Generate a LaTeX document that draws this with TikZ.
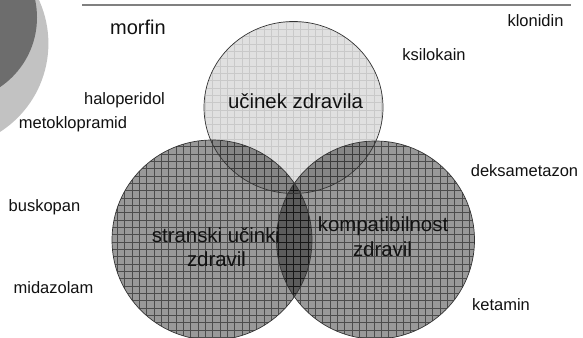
\documentclass[tikz,border=0pt]{standalone}
\usepackage{fontspec}
\setmainfont{Liberation Sans}
\definecolor{decolight}{HTML}{C2C2C2}
\definecolor{decodark}{HTML}{6D6D6D}
\definecolor{topline}{HTML}{808080}
\definecolor{txt}{HTML}{111111}
\begin{document}
\begin{tikzpicture}[x=1pt,y=-1pt,
  drug/.style={anchor=base, inner sep=0pt, font=\fontsize{16.5}{19}\selectfont, text=txt},
  drugbig/.style={anchor=base, inner sep=0pt, font=\fontsize{20}{24}\selectfont, text=txt},
  setlabel/.style={anchor=base, inner sep=0pt, font=\fontsize{20.4}{24}\selectfont, text=txt},
  ring/.style={draw=black!80, line width=0.7pt},
  darkgrid/.style={draw=black, draw opacity=0.5, line width=0.5pt},
  lightgrid/.style={draw=black, draw opacity=0.1, line width=0.5pt}]
\useasboundingbox (0,0) rectangle (583,337);
% corner decoration
\fill[decolight] (-56.6,43.5) circle[radius=105pt];
\fill[decodark] (-47,17.5) circle[radius=84pt];
% top rule
\coordinate (ruleL) at (82,5);
\coordinate (ruleR) at (571,5);
\draw[topline, line width=1.5pt] (ruleL) -- (ruleR);
% set centres
\coordinate (cT) at (293.5,107.5);
\coordinate (cL) at (212,240);
\coordinate (cR) at (375.5,240);
% fills
\fill[black, fill opacity=0.12] (cT) ellipse[x radius=89.5pt, y radius=86pt];
\fill[black, fill opacity=0.40] (cL) circle[radius=100pt];
\fill[black, fill opacity=0.40] (cR) circle[radius=99pt];
% grids
\begin{scope}
  \clip (cT) ellipse[x radius=89.5pt, y radius=86pt];
  \draw[lightgrid, step=7.33pt] (190,10) grid (390,200);
\end{scope}
\begin{scope}
  \clip (cL) circle[radius=100pt];
  \draw[darkgrid, step=7.33pt] (100,130) grid (320,345);
\end{scope}
\begin{scope}
  \clip (cR) circle[radius=99pt];
  \draw[darkgrid, step=7.33pt] (270,130) grid (480,345);
\end{scope}
% outlines
\draw[ring] (cT) ellipse[x radius=89.5pt, y radius=86pt];
\draw[ring] (cL) circle[radius=100pt];
\draw[ring] (cR) circle[radius=99pt];
% set labels
\node[setlabel] (effect) at (295.5,108) {učinek zdravila};
\node[setlabel] (side1) at (216,242) {stranski učinki};
\node[setlabel] (side2) at (216.5,266) {zdravil};
\node[setlabel] (comp1) at (383,231) {kompatibilnost};
\node[setlabel] (comp2) at (382.5,256) {zdravil};
% drug names
\node[drugbig] (morfin) at (138,35) {morfin};
\node[drug] (klonidin) at (535.5,27) {klonidin};
\node[drug] (ksilokain) at (434,60) {ksilokain};
\node[drug] (haloperidol) at (124.5,104) {haloperidol};
\node[drug] (metoklopramid) at (73,128) {metoklopramid};
\node[drug] (buskopan) at (44.5,211) {buskopan};
\node[drug] (midazolam) at (53.5,293) {midazolam};
\node[drug] (deksametazon) at (524.5,176) {deksametazon};
\node[drug] (ketamin) at (501,310) {ketamin};
\end{tikzpicture}
\end{document}
